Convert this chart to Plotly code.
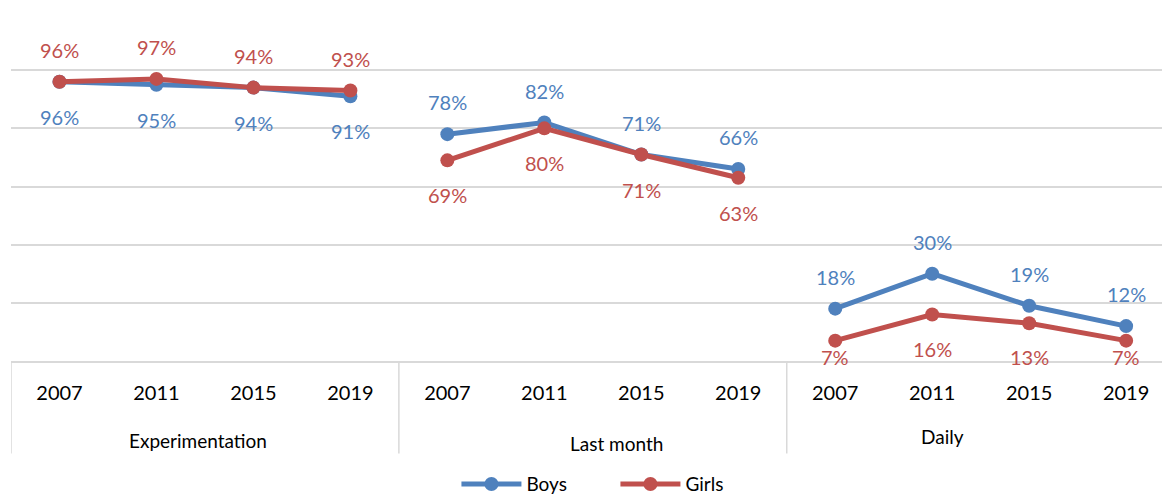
import plotly.graph_objects as go

# Smoking prevalence among pupils, by indicator and survey year
groups = ["Experimentation", "Last month", "Daily"]
years = ["2007", "2011", "2015", "2019"]

boys_experimentation = [96, 95, 94, 91]
boys_last_month = [78, 82, 71, 66]
boys_daily = [18, 30, 19, 12]

girls_experimentation = [96, 97, 94, 93]
girls_last_month = [69, 80, 71, 63]
girls_daily = [7, 16, 13, 7]

BLUE = "#4F81BD"
RED = "#C0504D"
GRID = "#D9D9D9"
FONT = "Lato, Carlito, Calibri, sans-serif"

series = [
    ("Boys", BLUE, [boys_experimentation, boys_last_month, boys_daily], ["below", "above", "above"]),
    ("Girls", RED, [girls_experimentation, girls_last_month, girls_daily], ["above", "below", "below"]),
]

n_years = len(years)
n_cat = len(groups) * n_years

Y_MAX = 120
PLOT_TOP, PLOT_BOTTOM = 12, 136
FIG_W, FIG_H = 1162, 497
plot_h = FIG_H - PLOT_TOP - PLOT_BOTTOM
px_per_unit = plot_h / Y_MAX

fig = go.Figure()
annotations = []

for name, color, blocks, sides in series:
    xs, ys = [], []
    for g, vals in enumerate(blocks):
        for i, v in enumerate(vals):
            x = g * n_years + i
            xs.append(x)
            ys.append(v)
            if sides[g] == "above":
                shift = 32
            else:
                # keep labels of low values inside the plot area
                shift = -min(35, v * px_per_unit - 4)
            annotations.append(dict(
                x=x, y=v, xref="x", yref="y", text=f"{v}%", showarrow=False,
                yshift=shift, font=dict(family=FONT, size=20, color=color),
            ))
        # break the line between indicator groups
        xs.append(None)
        ys.append(None)
    fig.add_trace(go.Scatter(
        x=xs, y=ys, name=name, mode="lines+markers",
        line=dict(color=color, width=5),
        marker=dict(color=color, size=14),
        connectgaps=False, cliponaxis=False,
    ))

# indicator group labels under the year row
group_xshift = [-7, 24, -38]
group_y = [-0.227, -0.236, -0.216]
for g, label in enumerate(groups):
    annotations.append(dict(
        x=g * n_years + (n_years - 1) / 2, y=group_y[g], xref="x", yref="paper",
        text=label, showarrow=False, xshift=group_xshift[g], yanchor="middle",
        font=dict(family=FONT, size=19, color="#000000"),
    ))

# vertical separators framing the category labels
shapes = []
for g in range(len(groups)):
    bx = g * n_years - 0.5
    shapes.append(dict(
        type="line", xref="x", yref="paper", x0=bx, x1=bx, y0=0, y1=-0.265,
        line=dict(color=GRID, width=1.5),
    ))

fig.update_layout(
    width=FIG_W, height=FIG_H,
    margin=dict(l=11, r=0, t=PLOT_TOP, b=PLOT_BOTTOM, autoexpand=False),
    paper_bgcolor="white", plot_bgcolor="white",
    font=dict(family=FONT, size=20, color="#000000"),
    xaxis=dict(
        range=[-0.5, 11.37],
        tickmode="array",
        tickvals=list(range(n_cat)),
        ticktext=years * len(groups),
        ticks="outside", ticklen=13, tickcolor="rgba(0,0,0,0)",
        tickfont=dict(family=FONT, size=20, color="#000000"),
        showgrid=False, zeroline=False,
        showline=True, linecolor=GRID, linewidth=1.5,
        fixedrange=True, automargin=False,
    ),
    yaxis=dict(
        range=[0, Y_MAX], dtick=20, showticklabels=False,
        showgrid=True, gridcolor=GRID, gridwidth=1.5,
        zeroline=False, showline=False, ticks="", automargin=False,
    ),
    legend=dict(
        orientation="h", x=0.387, xanchor="left",
        yref="container", y=0.026, yanchor="middle",
        font=dict(family=FONT, size=19, color="#000000"),
        itemwidth=60, entrywidth=84, tracegroupgap=0,
    ),
    annotations=annotations,
    shapes=shapes,
    showlegend=True,
)

fig.write_html("out.html")
